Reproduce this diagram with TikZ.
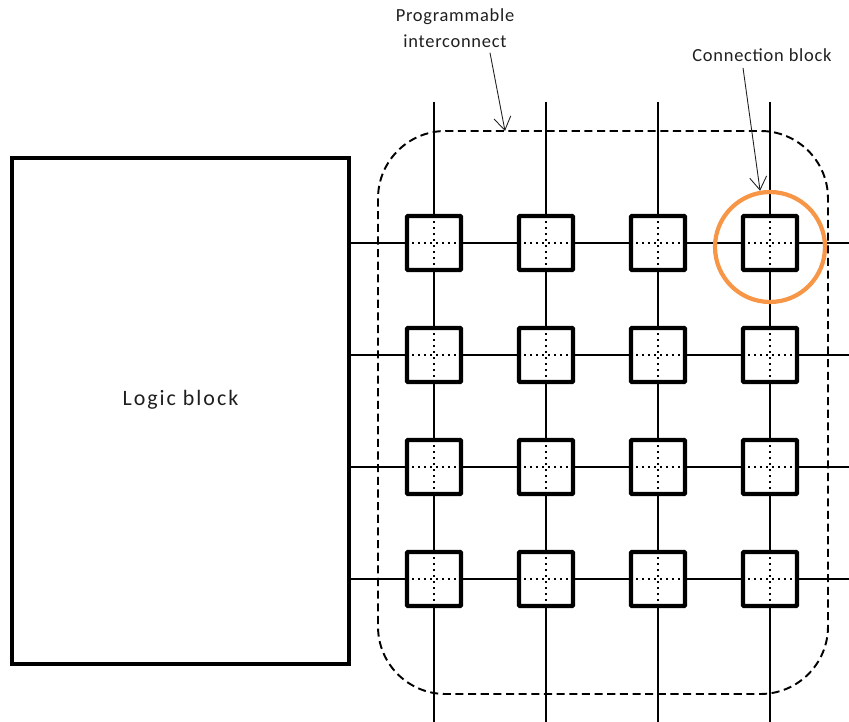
\documentclass[tikz,border=0pt]{standalone}
\usepackage{fontspec}
\setmainfont{Carlito}
\usetikzlibrary{arrows.meta}
\definecolor{fabricborder}{HTML}{000000}
\definecolor{fabrictext}{HTML}{1F1F1F}
\definecolor{fabricwire}{HTML}{000000}
\definecolor{fabrichighlight}{HTML}{F79646}
\tikzset{
  logic block/.style={
    rectangle, draw=fabricborder, fill=white,
    line width=2.4pt,
    minimum width=6.74cm, minimum height=10.12cm
  },
  logic text/.style={
    text=fabrictext, inner sep=0pt,
    font=\fontsize{12.5}{15}\selectfont\addfontfeature{LetterSpace=9}
  },
  connection block/.style={
    rectangle, draw=fabricborder, fill=white,
    line width=2.5pt, rounded corners=0.5pt,
    minimum width=1.08cm, minimum height=1.08cm
  },
  fabric wire/.style={draw=fabricwire, line width=1.1pt},
  fabric cross/.style={draw=fabricwire, line width=1.3pt, dash pattern=on 1.3pt off 2.1pt},
  fabric region/.style={
    draw=fabricborder, line width=1.1pt,
    dash pattern=on 4.6pt off 2.6pt, rounded corners=1.35cm
  },
  fabric ring/.style={
    circle, draw=fabrichighlight, line width=2.4pt,
    minimum size=2.2cm, inner sep=0pt
  },
  fabric label/.style={
    text=fabrictext, font=\fontsize{10.5}{14.7}\selectfont\addfontfeature{LetterSpace=4},
    align=center, inner sep=0pt
  },
  fabric arrow/.style={
    draw=fabrictext, line width=0.5pt,
    -{Straight Barb[length=2.6mm,width=3.4mm]}
  }
}

\begin{document}
\begin{tikzpicture}[x=0.02cm,y=-0.02cm]
  \useasboundingbox (0,0) rectangle (849,722);

  \node[logic block,label={[logic text,yshift=0.22cm]center:Logic block}] (logic) at (180.5,411) {};

  % wires of the interconnect
  \foreach \col/\x in {1/434,2/546,3/658,4/770}{
    \coordinate (top\col) at (\x,102);
    \coordinate (bot\col) at (\x,722);
    \draw[fabric wire] (top\col) -- (bot\col);
  }
  \foreach \row/\y in {1/243,2/355,3/467,4/579}{
    \coordinate (west\row) at (349,\y);
    \coordinate (east\row) at (849,\y);
    \draw[fabric wire] (west\row) -- (east\row);
  }

  \draw[fabric region] (378,131) rectangle (828,694);

  % connection blocks
  \foreach \row/\y in {1/243,2/355,3/467,4/579}{
    \foreach \col/\x in {1/434,2/546,3/658,4/770}{
      \node[connection block] (cb\row\col) at (\x,\y) {};
      \draw[fabric cross] ([xshift=-0.44cm]cb\row\col.center) -- ([xshift=0.44cm]cb\row\col.center);
      \draw[fabric cross] ([yshift=-0.44cm]cb\row\col.center) -- ([yshift=0.44cm]cb\row\col.center);
    }
  }

  \node[fabric ring] (ring) at (770,247) {};

  \node[fabric label] (interconnect) at (455,28) {Programmable\\interconnect};
  \node[fabric label] (cblabel) at (762,55) {Connection block};
  \coordinate (regiontop) at (505,131);
  \draw[fabric arrow] ([xshift=0.7cm,yshift=-0.1cm]interconnect.south) -- (regiontop);
  \draw[fabric arrow] ([xshift=-0.38cm,yshift=-0.12cm]cblabel.south) -- (ring.100);
\end{tikzpicture}
\end{document}
